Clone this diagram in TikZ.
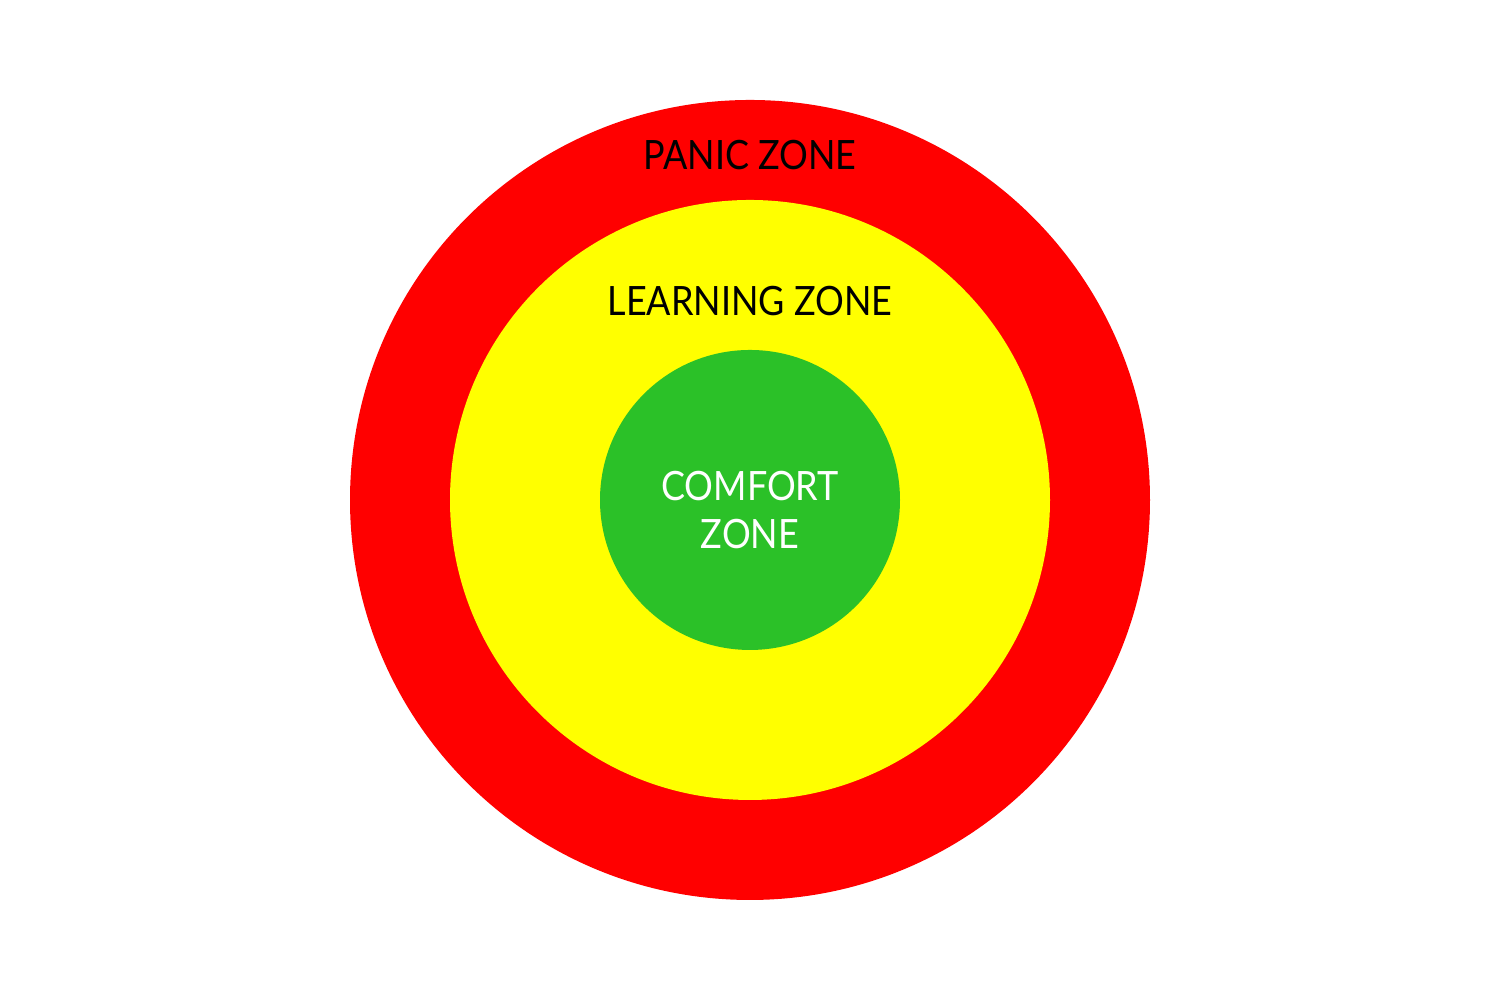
\documentclass[tikz,border=0pt]{standalone}
\usepackage{fontspec}
\setmainfont{Lato}[FakeStretch=0.89]
\definecolor{panicred}{RGB}{255,0,0}
\definecolor{learnyellow}{RGB}{255,255,0}
\definecolor{comfortgreen}{RGB}{43,193,40}
\begin{document}
\begin{tikzpicture}
\tikzset{
  zone/.style={circle, draw=none, inner sep=0pt, minimum size=#1},
  zonelabel/.style={font=\fontsize{11.5}{13.4}\selectfont, align=center, inner sep=0pt}
}
\useasboundingbox[fill=white] (0,0) rectangle (15,10);
\node[zone=8cm, fill=panicred] (panic) at (7.5,5) {};
\node[zone=6cm, fill=learnyellow] (learning) at (7.5,5) {};
\node[zone=3cm, fill=comfortgreen] (comfort) at (7.5,5) {};
\node[zonelabel, text=black] (panictext) at (7.5,8.45) {PANIC ZONE};
\node[zonelabel, text=black] (learningtext) at (7.5,6.99) {LEARNING ZONE};
\node[zonelabel, text=white] (comforttext) at (7.5,4.9) {COMFORT\\ZONE};
\end{tikzpicture}
\end{document}
